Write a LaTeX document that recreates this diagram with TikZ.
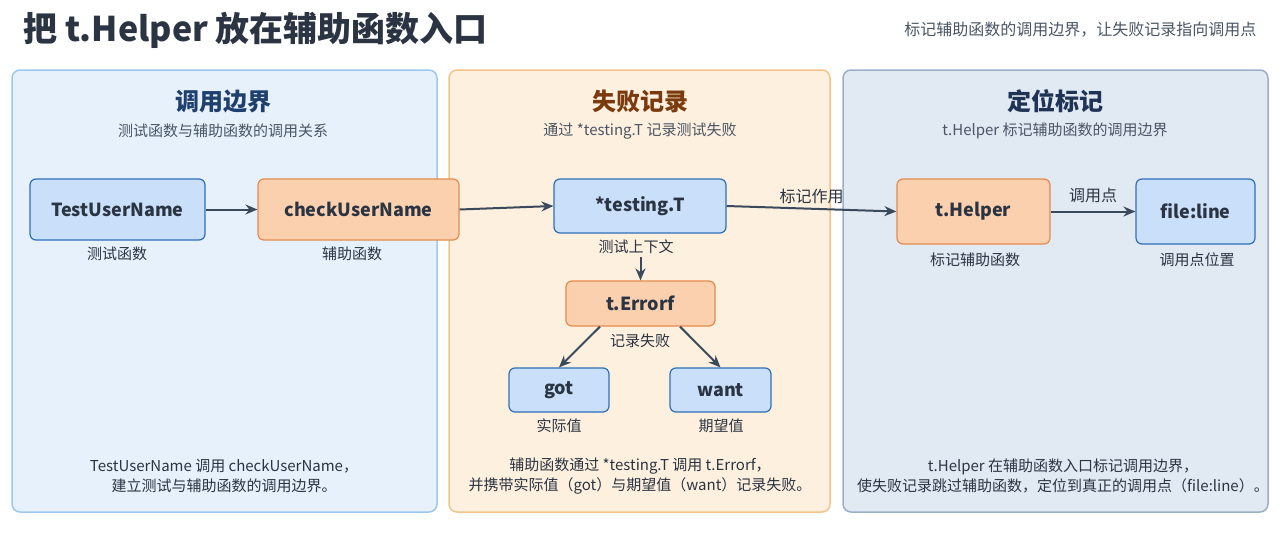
\documentclass[tikz,border=0pt]{standalone}
\usepackage{fontspec}
\setmainfont{Noto Sans CJK SC}
\usetikzlibrary{arrows.meta}
\definecolor{bfill}{HTML}{C9DFFA}\definecolor{bline}{HTML}{2F6FB8}
\definecolor{ofill}{HTML}{FBD0AE}\definecolor{oline}{HTML}{E38B4E}
\definecolor{arr}{HTML}{3A4A5C}\definecolor{txt}{HTML}{2B3442}
\definecolor{sub}{HTML}{4A5565}
\begin{document}
\begin{tikzpicture}[x=1pt,y=-1pt,
 panel/.style={rounded corners=8pt,line width=1.5pt},
 box/.style={rounded corners=6pt,line width=1.2pt,font=\fontsize{18}{21}\selectfont\bfseries,text=txt},
 bb/.style={box,fill=bfill,draw=bline},
 ob/.style={box,fill=ofill,draw=oline},
 lab/.style={font=\fontsize{15}{18}\selectfont,text=txt},
 ptitle/.style={font=\fontsize{24}{28}\selectfont\bfseries},
 psub/.style={font=\fontsize{15}{18}\selectfont,text=sub},
 ar/.style={-{Stealth[length=12pt,width=10pt]},line width=2pt,draw=arr}]
\useasboundingbox (0,0) rectangle (1280,533);
\fill[white] (0,0) rectangle (1280,533);
\node[anchor=west,font=\fontsize{34}{38}\selectfont\bfseries,text=txt] (title) at (20,30) {把 t.Helper 放在辅助函数入口};
\node[anchor=east,font=\fontsize{16}{19}\selectfont,text=sub] (tr) at (1260,30) {标记辅助函数的调用边界，让失败记录指向调用点};
\draw[panel,fill={rgb,255:red,230;green,241;blue,252},draw={rgb,255:red,156;green,200;blue,236}] (12,70) rectangle (437,512);
\draw[panel,fill={rgb,255:red,253;green,240;blue,222},draw={rgb,255:red,243;green,196;blue,138}] (449,70) rectangle (830,512);
\draw[panel,fill={rgb,255:red,225;green,233;blue,243},draw={rgb,255:red,154;green,176;blue,200}] (843,70) rectangle (1268,512);
\node[ptitle,text={rgb,255:red,31;green,63;blue,110}] (t1) at (223,101) {调用边界};
\node[ptitle,text={rgb,255:red,122;green,58;blue,14}] (t2) at (640,101) {失败记录};
\node[ptitle,text={rgb,255:red,31;green,51;blue,84}] (t3) at (1055,101) {定位标记};
\node[psub] (s1) at (223,131) {测试函数与辅助函数的调用关系};
\node[psub] (s2) at (640,131) {通过 *testing.T 记录测试失败};
\node[psub] (s3) at (1055,131) {t.Helper 标记辅助函数的调用边界};
\node[bb,minimum width=175pt,minimum height=61pt] (a) at (117.5,209.5) {TestUserName};
\node[ob,minimum width=201pt,minimum height=61pt] (b) at (358.5,209.5) {checkUserName};
\node[bb,minimum width=172pt,minimum height=54pt] (c) at (640,206) {*testing.T};
\node[ob,minimum width=149pt,minimum height=45pt] (d) at (640.5,303.5) {t.Errorf};
\node[bb,minimum width=100pt,minimum height=44pt] (e) at (559,390) {got};
\node[bb,minimum width=101pt,minimum height=44pt] (f) at (720.5,390) {want};
\node[ob,minimum width=153pt,minimum height=65pt] (g) at (973.5,211.5) {t.Helper};
\node[bb,minimum width=119pt,minimum height=65pt] (h) at (1195.5,211.5) {file:line};
\node[lab] (la) at (117,254) {测试函数};
\node[lab] (lb) at (352,254) {辅助函数};
\node[lab] (lc) at (636,247) {测试上下文};
\node[lab] (ld) at (640,341) {记录失败};
\node[lab] (le) at (559,426) {实际值};
\node[lab] (lf) at (721,426) {期望值};
\node[lab] (lg) at (975,260) {标记辅助函数};
\node[lab] (lh) at (1197,260) {调用点位置};
\draw[ar] (a.east) -- (b.west);
\draw[ar] (b.east) -- (c.west);
\draw[ar] (c.east) -- node[lab,above=1pt,font=\fontsize{16}{19}\selectfont] (m1) {标记作用} (g.west);
\draw[ar] (g.east) -- node[lab,above=4pt,font=\fontsize{16}{19}\selectfont] (m2) {调用点} (h.west);
\draw[ar] (lc.south -| d.north) -- (d.north);
\draw[ar] (d.south -| 600,0) -- (e.north);
\draw[ar] (d.south -| 680,0) -- (f.north);
\node[lab,align=center] (n1) at (224,476) {TestUserName 调用 checkUserName，\\[2pt]建立测试与辅助函数的调用边界。};
\node[lab,align=center] (n2) at (640,476) {辅助函数通过 *testing.T 调用 t.Errorf，\\[2pt]并携带实际值（got）与期望值（want）记录失败。};
\node[lab,align=center] (n3) at (1063,476) {t.Helper 在辅助函数入口标记调用边界，\\[2pt]使失败记录跳过辅助函数，定位到真正的调用点（file:line）。};
\end{tikzpicture}
\end{document}
